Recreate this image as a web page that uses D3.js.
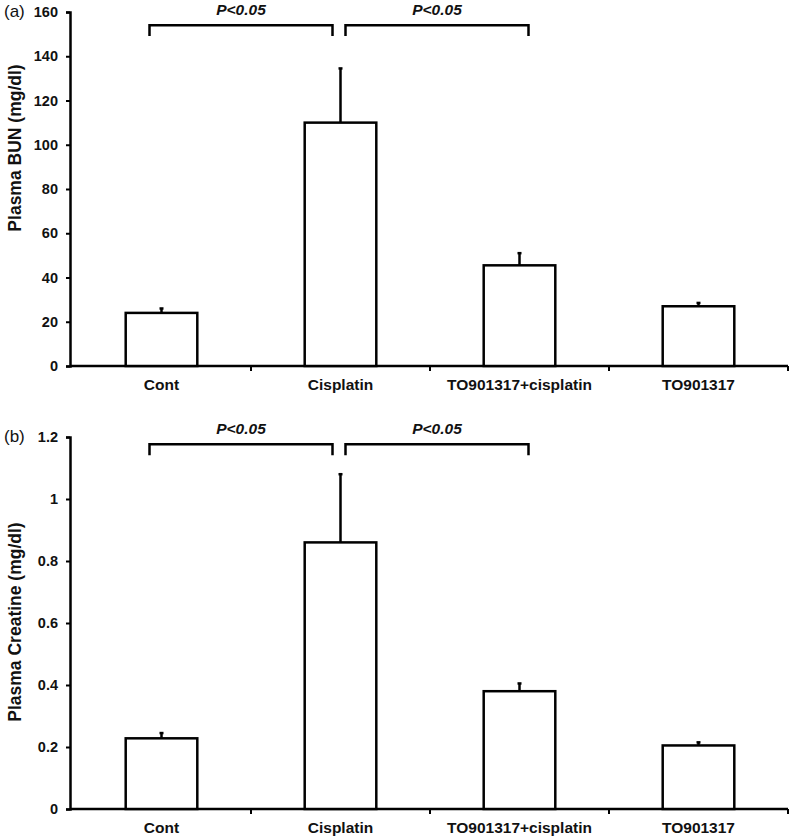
<!DOCTYPE html>
<html><head><meta charset="utf-8">
<script src="https://cdn.jsdelivr.net/npm/d3@7"></script>
<style>body{margin:0;background:#fff}svg{display:block}text{font-family:"Liberation Sans",Arial,sans-serif}</style>
</head><body>
<script>
const categories = ["Cont", "Cisplatin", "TO901317+cisplatin", "TO901317"];
const bunValues = [24, 110, 45.5, 27];
const bunErrors = [2, 24.5, 5.5, 1.5];
const bunTicks = [0, 20, 40, 60, 80, 100, 120, 140, 160];
const creValues = [0.228, 0.86, 0.38, 0.205];
const creErrors = [0.017, 0.22, 0.025, 0.01];
const creTicks = [0, 0.2, 0.4, 0.6, 0.8, 1, 1.2];
const sigLabel = "P<0.05";
const bunBrackets = [{from: 0, to: 1, y: 154, drop: 4.8}, {from: 1, to: 2, y: 154, drop: 4.8}];
const creBrackets = [{from: 0, to: 1, y: 1.177, drop: 0.036}, {from: 1, to: 2, y: 1.177, drop: 0.036}];

const svg = d3.select("body").append("svg").attr("width", 800).attr("height", 840);

function panel(cfg) {
  const g = svg.append("g");
  const x = d3.scaleBand().domain(categories).range([72, 788]).padding(0);
  const y = d3.scaleLinear().domain(cfg.domain).range([cfg.bottom, cfg.top]);
  const axisX = 70;

  const ya = g.append("g").attr("transform", `translate(${axisX},0)`)
    .call(d3.axisLeft(y).tickValues(cfg.ticks).tickSize(4).tickPadding(8).tickFormat(d => String(d)));
  ya.select(".domain").attr("stroke", "#000").attr("stroke-width", 2.5);
  ya.selectAll(".tick line").attr("stroke", "#000").attr("stroke-width", 2);
  ya.selectAll(".tick text").attr("font-size", 14.5).attr("font-weight", "bold").attr("fill", "#111")
    .attr("font-family", "Liberation Sans, Arial, sans-serif");

  g.append("line").attr("x1", axisX).attr("x2", x.range()[1]).attr("y1", y(0)).attr("y2", y(0))
    .attr("stroke", "#000").attr("stroke-width", 2.5);
  const bounds = categories.slice(1).map(c => x(c)).concat([x.range()[1]]);
  g.selectAll(".bt").data(bounds).enter().append("line")
    .attr("x1", d => d).attr("x2", d => d).attr("y1", y(0)).attr("y2", y(0) + 5)
    .attr("stroke", "#000").attr("stroke-width", 2);
  g.selectAll(".cl").data(categories).enter().append("text")
    .attr("x", d => x(d) + x.bandwidth() / 2).attr("y", y(0) + 24)
    .attr("text-anchor", "middle").attr("font-size", 15.5).attr("font-weight", "bold").attr("fill", "#111")
    .text(d => d);

  const bw = x.bandwidth() * 0.4;
  const cx = i => x(categories[i]) + x.bandwidth() / 2;
  g.selectAll(".bar").data(cfg.values).enter().append("rect")
    .attr("x", (d, i) => cx(i) - bw / 2).attr("y", d => y(d))
    .attr("width", bw).attr("height", d => y(0) - y(d))
    .attr("fill", "#fff").attr("stroke", "#000").attr("stroke-width", 2.5);
  g.selectAll(".err").data(cfg.values).enter().append("line")
    .attr("x1", (d, i) => cx(i)).attr("x2", (d, i) => cx(i))
    .attr("y1", d => y(d)).attr("y2", (d, i) => y(d + cfg.errors[i]))
    .attr("stroke", "#000").attr("stroke-width", 2.5);
  g.selectAll(".cap").data(cfg.values).enter().append("line")
    .attr("x1", (d, i) => cx(i) - 2).attr("x2", (d, i) => cx(i) + 2)
    .attr("y1", (d, i) => y(d + cfg.errors[i])).attr("y2", (d, i) => y(d + cfg.errors[i]))
    .attr("stroke", "#000").attr("stroke-width", 2.5);

  cfg.brackets.forEach((b, k) => {
    const x1 = k === 0 ? cx(b.from) - 12 : cx(b.from) + 5;
    const x2 = k === 0 ? cx(b.to) - 8 : cx(b.to) + 9;
    const yt = y(b.y), yb = y(b.y - b.drop);
    g.append("path").attr("d", `M${x1},${yb}V${yt}H${x2}V${yb}`)
      .attr("fill", "none").attr("stroke", "#000").attr("stroke-width", 2.5);
    g.append("text").attr("x", (x1 + x2) / 2).attr("y", yt - 10)
      .attr("text-anchor", "middle").attr("font-size", 15.5).attr("font-weight", "bold")
      .attr("font-style", "italic").attr("fill", "#111").text(sigLabel);
  });

  g.append("text").attr("transform", `translate(21,${cfg.titleY}) rotate(-90)`)
    .attr("text-anchor", "middle").attr("font-size", 17.5).attr("font-weight", "bold").attr("fill", "#111")
    .text(cfg.title);
  g.append("text").attr("x", 4).attr("y", cfg.top + 5).attr("font-size", 17).attr("fill", "#111").text(cfg.letter);
}

panel({domain: [0, 160], top: 12, bottom: 366, ticks: bunTicks, values: bunValues, errors: bunErrors,
  brackets: bunBrackets, title: "Plasma BUN (mg/dl)", titleY: 148, letter: "(a)"});
panel({domain: [0, 1.2], top: 437, bottom: 809, ticks: creTicks, values: creValues, errors: creErrors,
  brackets: creBrackets, title: "Plasma Creatine (mg/dl)", titleY: 622, letter: "(b)"});
</script>
</body></html>
